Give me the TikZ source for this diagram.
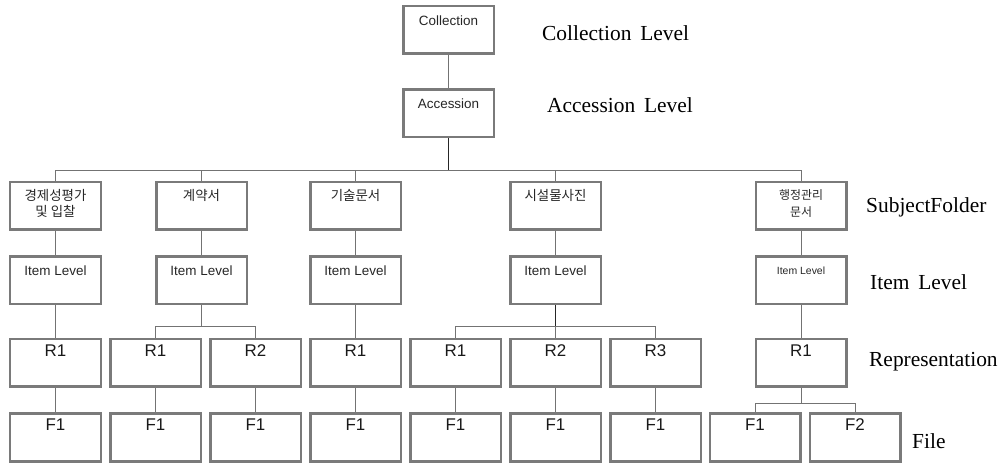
\documentclass[tikz,border=0pt]{standalone}
\usepackage{fontspec}
\setmainfont{Liberation Serif}
\setsansfont{Liberation Sans}
\newfontfamily\krfont{Noto Sans CJK KR}

\tikzset{
  box/.style={draw=black!52, line width=2.5bp,
              minimum width=90.5bp, minimum height=47.5bp, inner sep=0pt},
  boxtxt/.style={font=\sffamily\fontsize{13.5}{16}\selectfont, text=black!85, inner sep=0pt, anchor=base},
  smalltxt/.style={font=\sffamily\fontsize{10.5}{13}\selectfont, text=black!85, inner sep=0pt, anchor=base},
  krtxt/.style={font=\krfont\fontsize{13.5}{16.5}\selectfont, text=black!85, inner sep=0pt, anchor=base, align=center},
  krsmall/.style={font=\krfont\fontsize{12}{17.5}\selectfont, text=black!85, inner sep=0pt, anchor=base, align=center},
  rftxt/.style={font=\sffamily\fontsize{17}{20}\selectfont, text=black!90, inner sep=0pt, anchor=base},
  level/.style={font=\fontsize{21.5}{24}\selectfont, inner sep=0pt, anchor=base west},
  link/.style={draw=black!55, line width=0.8bp},
  trunk/.style={draw=black!85, line width=0.9bp},
}

% box with its caption set near the top edge
\newcommand\tbox[6]{%
  \node[box] (#1) at (#2,#3) {};
  \node[#4] (#1-t) at ([yshift=-#5]#1.north) {#6};
}

\begin{document}
\begin{tikzpicture}[x=1bp,y=-1bp]
\useasboundingbox (0,0) rectangle (1005,463);

% top levels
\tbox{col}{448.5}{30}{boxtxt}{20.5bp}{Collection}
\tbox{acc}{448.5}{113.5}{boxtxt}{20.5bp}{Accession}

% subject folders (two-line captions sit on their last line)
\tbox{sf1}{55.5}{206}{krtxt}{35.5bp}{경제성평가\\및 입찰}
\tbox{sf2}{201.5}{206}{krtxt}{19.5bp}{계약서}
\tbox{sf3}{355.5}{206}{krtxt}{19.5bp}{기술문서}
\tbox{sf4}{555.5}{206}{krtxt}{19.5bp}{시설물사진}
\tbox{sf5}{801}{206}{krsmall}{36bp}{행정관리\\문서}

% item level
\tbox{it1}{55.5}{280.5}{boxtxt}{20.5bp}{Item Level}
\tbox{it2}{201.5}{280.5}{boxtxt}{20.5bp}{Item Level}
\tbox{it3}{355.5}{280.5}{boxtxt}{20.5bp}{Item Level}
\tbox{it4}{555.5}{280.5}{boxtxt}{20.5bp}{Item Level}
\tbox{it5}{801}{280.5}{smalltxt}{19.5bp}{Item Level}

% representations
\tbox{r1}{55.5}{363}{rftxt}{18.5bp}{R1}
\tbox{r2a}{155.5}{363}{rftxt}{18.5bp}{R1}
\tbox{r2b}{255.5}{363}{rftxt}{18.5bp}{R2}
\tbox{r3}{355.5}{363}{rftxt}{18.5bp}{R1}
\tbox{r4a}{455.5}{363}{rftxt}{18.5bp}{R1}
\tbox{r4b}{555.5}{363}{rftxt}{18.5bp}{R2}
\tbox{r4c}{655.5}{363}{rftxt}{18.5bp}{R3}
\tbox{r5}{801}{363}{rftxt}{18.5bp}{R1}

% files
\tbox{f1}{55.5}{437.5}{rftxt}{18.5bp}{F1}
\tbox{f2a}{155.5}{437.5}{rftxt}{18.5bp}{F1}
\tbox{f2b}{255.5}{437.5}{rftxt}{18.5bp}{F1}
\tbox{f3}{355.5}{437.5}{rftxt}{18.5bp}{F1}
\tbox{f4a}{455.5}{437.5}{rftxt}{18.5bp}{F1}
\tbox{f4b}{555.5}{437.5}{rftxt}{18.5bp}{F1}
\tbox{f4c}{655.5}{437.5}{rftxt}{18.5bp}{F1}
\tbox{f5a}{755}{437.5}{rftxt}{18.5bp}{F1}
\tbox{f5b}{855}{437.5}{rftxt}{18.5bp}{F2}

% connectors
\draw[link] (col.south) -- (acc.north);
\draw[trunk] (acc.south) -- ++(0,32) coordinate (bus);
\foreach \s in {sf1,sf2,sf3,sf4,sf5} \draw[link] (bus) -| (\s.north);

\draw[link] (sf1.south) -- (it1.north);
\draw[link] (sf2.south) -- (it2.north);
\draw[link] (sf3.south) -- (it3.north);
\draw[link] (sf4.south) -- (it4.north);
\draw[link] (sf5.south) -- (it5.north);

\draw[link] (it1.south) -- (r1.north);
\draw[link] (it2.south) -- ++(0,21) coordinate (b2);
\draw[link] (b2) -| (r2a.north);
\draw[link] (b2) -| (r2b.north);
\draw[link] (it3.south) -- (r3.north);
\draw[trunk] (it4.south) -- ++(0,21) coordinate (b4);
\draw[link] (b4) -| (r4a.north);
\draw[link] (b4) -- (r4b.north);
\draw[link] (b4) -| (r4c.north);
\draw[link] (it5.south) -- (r5.north);

\draw[link] (r1.south) -- (f1.north);
\draw[link] (r2a.south) -- (f2a.north);
\draw[link] (r2b.south) -- (f2b.north);
\draw[link] (r3.south) -- (f3.north);
\draw[link] (r4a.south) -- (f4a.north);
\draw[link] (r4b.south) -- (f4b.north);
\draw[link] (r4c.south) -- (f4c.north);
\draw[link] (r5.south) -- ++(0,15.5) coordinate (b5);
\draw[link] (b5) -| (f5a.north);
\draw[link] (b5) -| (f5b.north);

% level captions
\node[level] (lv-col) at (542,41) {Collection\, Level};
\node[level] (lv-acc) at (547,113) {Accession\, Level};
\node[level] (lv-sf)  at (866,213) {SubjectFolder};
\node[level] (lv-it)  at (870,290) {Item\, Level};
\node[level] (lv-rep) at (869,367) {Representation};
\node[level] (lv-fil) at (912,448) {File};
\end{tikzpicture}
\end{document}
